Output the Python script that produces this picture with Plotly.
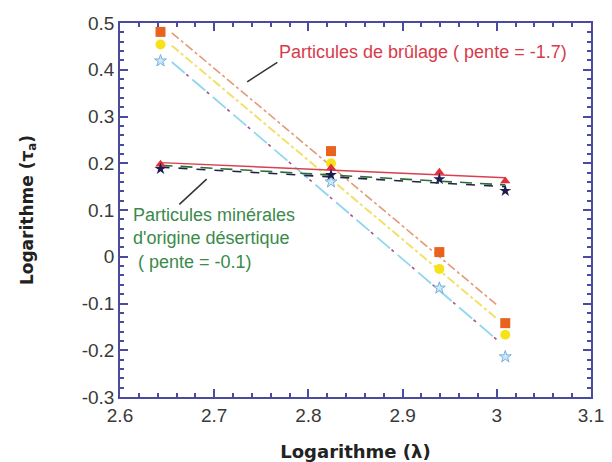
import numpy as np
import plotly.graph_objects as go

log_lambda = [2.643, 2.824, 2.939, 3.009]
orange_sq = [0.481, 0.226, 0.010, -0.142]
yellow_ci = [0.454, 0.200, -0.026, -0.167]
blue_star = [0.419, 0.160, -0.067, -0.214]
red_tri = [0.198, 0.190, 0.181, 0.162]
black_star = [0.188, 0.175, 0.166, 0.141]

x_ticks = [2.6, 2.7, 2.8, 2.9, 3.0, 3.1]
x_tick_text = ["2.6", "2.7", "2.8", "2.9", "3", "3.1"]
y_ticks = [0.5, 0.4, 0.3, 0.2, 0.1, 0.0, -0.1, -0.2, -0.3]
y_tick_text = ["0.5", "0.4", "0.3", "0.2", "0.1", "0", "-0.1", "-0.2", "-0.3"]

xa = np.array(log_lambda)
FONT = "Liberation Sans, Arial"


def fit(y, x0, x1):
    a, b = np.polyfit(xa, np.array(y), 1)
    xs = np.array([x0, x1])
    return xs, a * xs + b


fig = go.Figure()

# regression lines (steep: burning particles)
lines = [
    (orange_sq, "#e39a78", "dashdot", 1.6),
    (yellow_ci, "#f3e06a", "dashdot", 2.0),
    (blue_star, "#8fd6ee", "17px,10px", 1.8),
    (blue_star, "#a0508a", "0px,19px,3px,5px", 1.6),
]
for y, c, d, w in lines:
    xs, ys = fit(y, 2.655, 3.0)
    fig.add_trace(go.Scatter(x=xs, y=ys, mode="lines",
                             line=dict(color=c, dash=d, width=w),
                             showlegend=False, hoverinfo="skip"))

# flat lines (desert particles)
xs, ys = fit(red_tri, 2.643, 3.009)
fig.add_trace(go.Scatter(x=xs, y=ys, mode="lines",
                         line=dict(color="#d84050", width=1.4),
                         showlegend=False))
xs, ys = fit(black_star, 2.643, 3.009)
fig.add_trace(go.Scatter(x=xs, y=ys + 0.004, mode="lines",
                         line=dict(color="#2e6b3a", dash="12px,8px", width=1.6),
                         showlegend=False))
fig.add_trace(go.Scatter(x=xs, y=ys, mode="lines",
                         line=dict(color="#222244", dash="dash", width=1.6),
                         showlegend=False))

# markers
fig.add_trace(go.Scatter(x=log_lambda, y=orange_sq, mode="markers",
                         marker=dict(symbol="square", size=10, color="#e8641e"),
                         showlegend=False))
fig.add_trace(go.Scatter(x=log_lambda, y=yellow_ci, mode="markers",
                         marker=dict(symbol="circle", size=10, color="#f7e21a"),
                         showlegend=False))
fig.add_trace(go.Scatter(x=log_lambda, y=blue_star, mode="markers",
                         marker=dict(symbol="star", size=9, color="#cde8f8",
                                     line=dict(color="#7ab0dc", width=1)),
                         showlegend=False))
fig.add_trace(go.Scatter(x=log_lambda, y=red_tri, mode="markers",
                         marker=dict(symbol="triangle-up", size=9, color="#e0303c"),
                         showlegend=False))
fig.add_trace(go.Scatter(x=log_lambda, y=black_star, mode="markers",
                         marker=dict(symbol="star", size=9, color="#1c1c50"),
                         showlegend=False))

axis_color = "#4a4aa0"
common = dict(showline=True, linecolor=axis_color, linewidth=1.5, mirror="ticks",
              ticks="inside", tickcolor=axis_color, ticklen=8, tickwidth=1.5,
              showgrid=False, zeroline=False, automargin=False,
              ticklabeloverflow="allow",
              tickfont=dict(family=FONT, size=19, color="#3a3a3a"))

fig.update_xaxes(range=[2.6, 3.1], tickvals=x_ticks, ticktext=x_tick_text,
                 minor=dict(ticks="inside", dtick=0.02, ticklen=4, tickcolor=axis_color),
                 title=dict(text="<b>Logarithme (λ)</b>", standoff=29,
                            font=dict(family="DejaVu Sans", size=18, color="#222222")),
                 **common)
fig.update_yaxes(range=[-0.3, 0.5], tickvals=y_ticks, ticktext=y_tick_text,
                 minor=dict(ticks="inside", dtick=0.02, ticklen=4, tickcolor=axis_color),
                 title=dict(text="<b>Logarithme (τ<sub>a</sub>)</b>", standoff=44,
                            font=dict(family="DejaVu Sans", size=17, color="#222222")),
                 **common)

fig.add_annotation(xref="x", yref="y", x=2.767, y=0.438, xanchor="left", yanchor="middle",
                   text="Particules de brûlage ( pente = -1.7)", showarrow=False,
                   font=dict(family=FONT, size=18, color="#d83a4a"))
fig.add_annotation(xref="x", yref="y", x=2.612, y=0.04, xanchor="left", yanchor="middle",
                   align="left",
                   text="Particules minérales<br>d'origine désertique<br> ( pente = -0.1)",
                   showarrow=False,
                   font=dict(family=FONT, size=18, color="#3a8a4a"))
fig.add_shape(type="line", xref="x", yref="y", x0=2.735, y0=0.374, x1=2.767, y1=0.416,
              line=dict(color="#333333", width=1.5))
fig.add_shape(type="line", xref="x", yref="y", x0=2.663, y0=0.112, x1=2.692, y1=0.166,
              line=dict(color="#333333", width=1.5))

fig.update_layout(width=612, height=462, plot_bgcolor="white", paper_bgcolor="white",
                  margin=dict(l=120, r=21, t=23, b=65))

fig.write_html("out.html",
               config={"displayModeBar": False},
               post_script="document.body.style.margin='0px';"
                           "document.body.style.overflow='hidden';")
